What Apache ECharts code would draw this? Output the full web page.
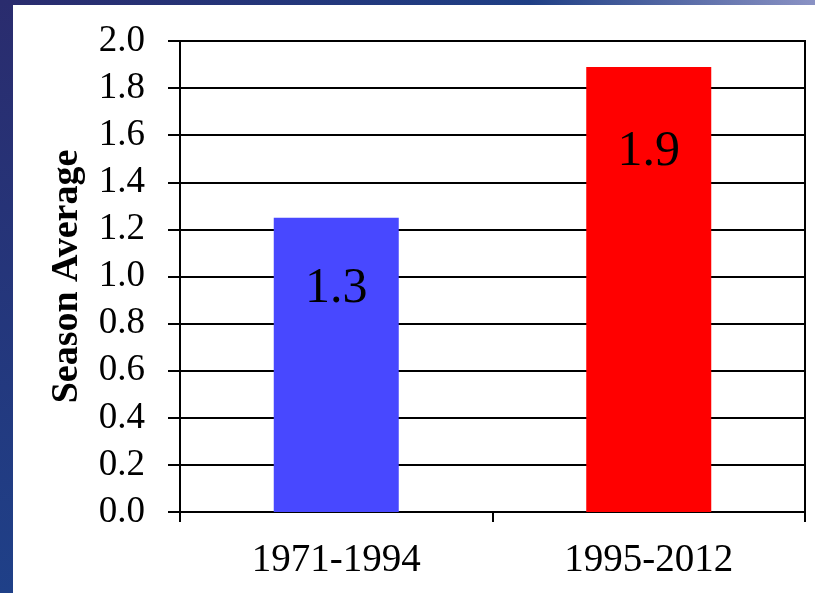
<!DOCTYPE html>
<html>
<head>
<meta charset="utf-8">
<script src="https://cdn.jsdelivr.net/npm/echarts@6/dist/echarts.min.js"></script>
<style>
html,body{margin:0;padding:0;background:#fff;}
#chart{width:815px;height:593px;}
</style>
</head>
<body>
<div id="chart"></div>
<script>
const categories = ['1971-1994', '1995-2012'];
const seasonAverage = [1.25, 1.89];
const barLabels = ['1.3', '1.9'];
const barColors = ['#4848ff', '#ff0000'];
const labelDistances = [46, 60];
const yTicks = { min: 0, max: 2.0, interval: 0.2 };
const yAxisTitle = 'Season Average';

const chart = echarts.init(document.getElementById('chart'), null, { renderer: 'canvas' });

const serif = '"Liberation Serif", "Times New Roman", serif';

chart.setOption({
  backgroundColor: '#ffffff',
  animation: false,
  graphic: [
    {
      type: 'rect', left: 0, top: 0, z: 100,
      shape: { width: 815, height: 5 },
      style: {
        fill: new echarts.graphic.LinearGradient(0, 0, 1, 0, [
          { offset: 0, color: '#2a2c6e' },
          { offset: 0.65, color: '#1f3f85' },
          { offset: 1, color: '#8a92c4' }
        ])
      }
    },
    {
      type: 'rect', left: 0, top: 0, z: 100,
      shape: { width: 13, height: 593 },
      style: {
        fill: new echarts.graphic.LinearGradient(0, 0, 0, 1, [
          { offset: 0, color: '#2a2c6e' },
          { offset: 1, color: '#1f4088' }
        ])
      }
    }
  ],
  grid: {
    left: 180, right: 10, top: 41, bottom: 81,
    show: true, borderColor: '#000', borderWidth: 2, backgroundColor: 'transparent'
  },
  xAxis: {
    type: 'category',
    data: categories,
    boundaryGap: true,
    axisLine: { show: true, lineStyle: { color: '#000', width: 2 } },
    axisTick: { show: true, alignWithLabel: false, length: 10, lineStyle: { color: '#000', width: 2 } },
    axisLabel: { color: '#000', fontFamily: serif, fontSize: 39, margin: 29 },
    splitLine: { show: false }
  },
  yAxis: {
    type: 'value',
    min: yTicks.min, max: yTicks.max, interval: yTicks.interval,
    name: yAxisTitle,
    nameLocation: 'middle',
    nameGap: 94,
    nameRotate: 90,
    nameTextStyle: { color: '#000', fontFamily: serif, fontWeight: 'bold', fontSize: 38 },
    axisLine: { show: true, lineStyle: { color: '#000', width: 2 } },
    axisTick: { show: true, inside: false, length: 12, lineStyle: { color: '#000', width: 2 } },
    axisLabel: {
      color: '#000', fontFamily: serif, fontSize: 37, margin: 35,
      formatter: v => v.toFixed(1)
    },
    splitLine: { show: true, lineStyle: { color: '#000', width: 2 } }
  },
  series: [{
    type: 'bar',
    barWidth: '40%',
    data: seasonAverage.map((v, i) => ({
      value: v,
      itemStyle: { color: barColors[i] },
      label: {
        show: true, position: 'insideTop', distance: labelDistances[i],
        formatter: barLabels[i],
        color: '#000', fontFamily: serif, fontSize: 50
      }
    }))
  }]
});
</script>
</body>
</html>
